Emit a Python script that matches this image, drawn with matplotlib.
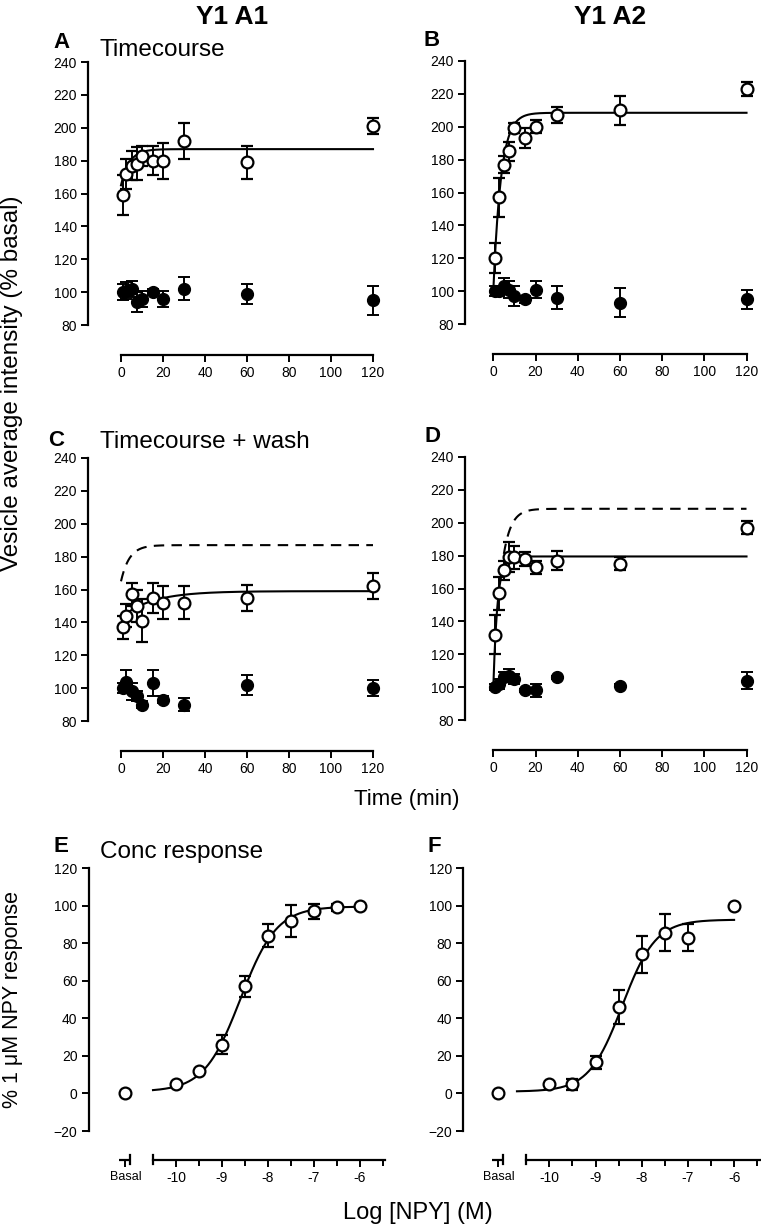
import numpy as np
import matplotlib
matplotlib.use("Agg")
import matplotlib.pyplot as plt

plt.rcParams['font.family'] = ['Liberation Sans', 'DejaVu Sans']

W, H = 761, 1227

# time points (min)
times = [1, 2.5, 5, 7.5, 10, 15, 20, 30, 60, 120]

# A: Y1 A1 timecourse
a_npy = [159, 172, 177, 178, 183, 180, 180, 192, 179, 201]
a_npy_err = [12, 9, 9, 10, 6, 9, 11, 11, 10, 5]
a_ctl = [100, 101, 102, 94, 96, 100, 96, 102, 99, 95]
a_ctl_err = [5, 5, 5, 6, 5, 2, 5, 7, 6, 9]

# B: Y1 A2 timecourse
b_npy = [120, 157, 177, 185, 199, 193, 200, 207, 210, 223]
b_npy_err = [9, 12, 5, 6, 3, 6, 4, 5, 9, 4]
b_ctl = [100, 100, 103, 101, 97, 95, 101, 96, 93, 95]
b_ctl_err = [3, 3, 5, 5, 6, 2, 5, 7, 9, 6]

# C: Y1 A1 timecourse + wash
c_npy = [137, 144, 157, 150, 141, 155, 152, 152, 155, 162]
c_npy_err = [7, 7, 7, 10, 13, 9, 10, 10, 8, 8]
c_ctl = [100, 104, 98, 95, 90, 103, 93, 90, 102, 100]
c_ctl_err = [3, 7, 5, 3, 2, 8, 2, 4, 6, 5]

# D: Y1 A2 timecourse + wash
d_npy = [132, 157, 171, 179, 179, 178, 173, 177, 175, 197]
d_npy_err = [12, 10, 6, 9, 7, 4, 4, 6, 4, 4]
d_ctl = [100, 102, 106, 107, 105, 98, 98, 106, 101, 104]
d_ctl_err = [2, 3, 3, 4, 3, 1, 4, 1, 1, 5]

# one-phase association fits (y0, plateau, k)
fit_a = (165, 187, 0.25)
fit_b = (100, 208.5, 0.275)
fit_c = (143, 159, 1 / 15)
fit_d = (100, 179.5, 0.5)

# E / F: concentration response
basal_x = -11.1
log_conc = [-10, -9.5, -9, -8.5, -8, -7.5, -7, -6.5, -6]
e_resp = [4.8, 12, 26, 57, 84, 92, 97, 99, 100]
e_err = [0, 0, 5, 5.5, 6, 8.5, 4, 2, 0]
f_conc = [-10, -9.5, -9, -8.5, -8, -7.5, -7, -6]
f_resp = [4.8, 4.8, 16.5, 46, 74, 85.6, 83, 100]
f_err = [0, 3, 3.5, 9, 10, 10, 7, 0]
basal_resp = 0

# sigmoid fits (bottom, top, logEC50, hill)
fit_e = (1, 99.5, -8.6, 1.1)
fit_f = (1, 92.5, -8.42, 1.2)

TICK_FS = 10


def assoc(t, p):
    y0, top, k = p
    return y0 + (top - y0) * (1 - np.exp(-k * t))


def sigm(x, p):
    bot, top, ec, h = p
    return bot + (top - bot) / (1 + 10 ** ((ec - x) * h))


def add_px_axes(fig, left, right, top, bottom):
    return fig.add_axes([left / W, 1 - bottom / H, (right - left) / W, (bottom - top) / H])


def style(ax):
    for s in ['top', 'right']:
        ax.spines[s].set_visible(False)
    for s in ['left', 'bottom']:
        ax.spines[s].set_linewidth(1.6)
    ax.tick_params(direction='out', length=5, width=1.4, labelsize=TICK_FS, pad=3)
    ax.tick_params(which='minor', direction='out', length=4, width=1.4)
    ax.patch.set_visible(False)


def time_panel(fig, spine_px, x0_px, xs, y240_px, npy, npy_err, ctl, ctl_err, fit,
               dashed=None, dash_from=0):
    ys = 1.644
    xlo, xhi = -(x0_px - spine_px) / xs, 125
    ylo, yhi = 61.8, 245
    ax = add_px_axes(fig, spine_px, x0_px + xhi * xs,
                     y240_px - (yhi - 240) * ys, y240_px + (240 - ylo) * ys)
    ax.set_xlim(xlo, xhi)
    ax.set_ylim(ylo, yhi)
    style(ax)
    ax.spines['left'].set_bounds(80, 240)
    ax.spines['bottom'].set_bounds(0, 120)
    ax.set_xticks(range(0, 121, 20))
    ax.set_yticks(range(80, 241, 20))

    tf = np.linspace(0, 120, 400)
    if dashed is not None:
        td = np.linspace(dash_from, 120, 400)
        ax.plot(td, assoc(td, dashed), color='black', lw=1.5, ls=(0, (5, 3.5)), zorder=2)
    ax.plot(tf, assoc(tf, fit), color='black', lw=1.5, zorder=2)

    ax.errorbar(times, ctl, yerr=ctl_err, fmt='o', ms=8.5, mfc='black', mec='black',
                ecolor='black', elinewidth=1.4, capsize=4, capthick=1.4, zorder=3, clip_on=False)
    ax.errorbar(times, npy, yerr=npy_err, fmt='o', ms=8.5, mfc='white', mec='black', mew=1.6,
                ecolor='black', elinewidth=1.4, capsize=4, capthick=1.4, zorder=4, clip_on=False)
    return ax


def conc_panel(fig, spine_px, xm10_px, xs, conc, resp, err, fit, fit_start):
    ys = 1.879
    y120_px = 868
    xlo, xhi = -10 - (xm10_px - spine_px) / xs, -5.42
    ylo, yhi = -35.4, 125
    ax = add_px_axes(fig, spine_px, xm10_px + (xhi + 10) * xs,
                     y120_px - (yhi - 120) * ys, y120_px + (120 - ylo) * ys)
    ax.set_xlim(xlo, xhi)
    ax.set_ylim(ylo, yhi)
    style(ax)
    ax.spines['left'].set_bounds(-20, 120)
    ax.spines['bottom'].set_bounds(-10.5, -5.45)
    ax.set_yticks(range(-20, 121, 20))
    ax.set_xticks([basal_x, -10, -9, -8, -7, -6])
    ax.set_xticklabels(['Basal', '-10', '-9', '-8', '-7', '-6'])
    ax.set_xticks([-9.5, -8.5, -7.5, -6.5, -5.5], minor=True)

    # broken axis pieces
    tr = ax.get_xaxis_transform()
    ah = (y120_px + (120 - ylo) * ys) - (y120_px - (yhi - 120) * ys)
    cap = 4.5 / ah
    ax.plot([basal_x - 0.14, -11.0], [0, 0], transform=tr, color='black', lw=1.6,
            clip_on=False, solid_capstyle='butt')
    ax.plot([-11.0, -11.0], [-cap, cap], transform=tr, color='black', lw=1.6, clip_on=False)
    ax.plot([-10.5, -10.5], [-cap, cap], transform=tr, color='black', lw=1.6, clip_on=False)

    xf = np.linspace(fit_start, -6, 300)
    ax.plot(xf, sigm(xf, fit), color='black', lw=1.5, zorder=2)
    ax.errorbar(conc, resp, yerr=err, fmt='o', ms=8.5, mfc='white', mec='black', mew=1.6,
                ecolor='black', elinewidth=1.4, capsize=4, capthick=1.4, zorder=4, clip_on=False)
    ax.plot([basal_x], [basal_resp], 'o', ms=8.5, mfc='white', mec='black', mew=1.6,
            zorder=4, clip_on=False)
    ax.get_xticklabels()[0].set_fontsize(9)
    return ax


fig = plt.figure(figsize=(W / 100, H / 100), dpi=100)

time_panel(fig, 88, 121, 2.1, 62, a_npy, a_npy_err, a_ctl, a_ctl_err, fit_a)
time_panel(fig, 465, 493.3, 2.11, 61, b_npy, b_npy_err, b_ctl, b_ctl_err, fit_b)
time_panel(fig, 88, 121, 2.1, 458, c_npy, c_npy_err, c_ctl, c_ctl_err, fit_c, dashed=fit_a)
time_panel(fig, 465, 493.3, 2.11, 457, d_npy, d_npy_err, d_ctl, d_ctl_err, fit_d,
           dashed=fit_b, dash_from=5)
conc_panel(fig, 88.5, 176, 46, log_conc, e_resp, e_err, fit_e, -10.5)
conc_panel(fig, 463, 549.3, 46.2, f_conc, f_resp, f_err, fit_f, -10.7)


def ftext(x, y, s, **kw):
    fig.text(x / W, 1 - y / H, s, **kw)


ftext(232, 17, 'Y1 A1', fontsize=19, fontweight='bold', ha='center', va='center')
ftext(610, 17, 'Y1 A2', fontsize=19, fontweight='bold', ha='center', va='center')
for lab, x, y in [('A', 61, 42), ('B', 432, 40), ('C', 56, 440), ('D', 433, 437),
                  ('E', 61, 846), ('F', 434, 847)]:
    ftext(x, y, lab, fontsize=16, fontweight='bold', ha='center', va='center')
ftext(100, 50, 'Timecourse', fontsize=17.5, ha='left', va='center')
ftext(100, 442, 'Timecourse + wash', fontsize=17.5, ha='left', va='center')
ftext(100, 852, 'Conc response', fontsize=17.5, ha='left', va='center')
ftext(12, 383, 'Vesicle average intensity (% basal)', fontsize=17.5, rotation=90,
      ha='center', va='center')
ftext(13, 1000, '% 1 \u03bcM NPY response', fontsize=15.5, rotation=90, ha='center', va='center')
ftext(407, 800, 'Time (min)', fontsize=16, ha='center', va='center')
ftext(418, 1213, 'Log [NPY] (M)', fontsize=17, ha='center', va='center')

fig.savefig('out.png', dpi=100)
